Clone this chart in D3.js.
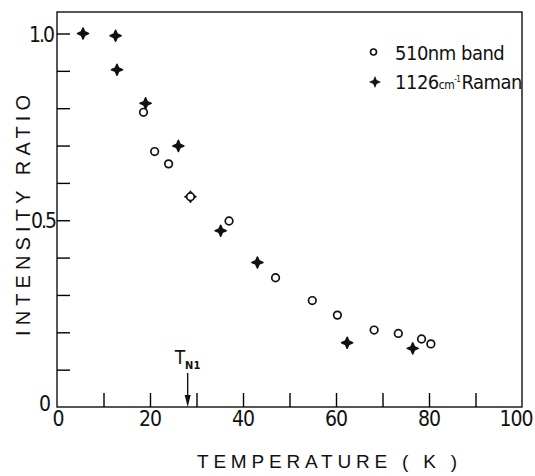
<!DOCTYPE html>
<html>
<head>
<meta charset="utf-8">
<script src="https://cdn.jsdelivr.net/npm/d3@7"></script>
<style>
  body { margin: 0; background: #fff; }
  svg text { font-family: "DejaVu Sans Condensed", "Liberation Sans", sans-serif; fill: #111; }
</style>
</head>
<body>
<div id="chart-area"></div>
<script>
// 510nm band (open circles)
var bandT = [18.6, 21.0, 24.0, 28.7, 37.0, 47.0, 54.9, 60.3, 68.2, 73.4, 78.4, 80.4];
var bandR = [0.789, 0.684, 0.651, 0.563, 0.498, 0.346, 0.285, 0.246, 0.206, 0.197, 0.182, 0.169];

// 1126 cm-1 Raman (filled crosses)
var ramanT = [5.6, 12.6, 12.9, 19.05, 26.1, 28.7, 35.2, 43.1, 62.4, 76.5];
var ramanR = [1.0, 0.994, 0.903, 0.813, 0.699, 0.563, 0.472, 0.387, 0.172, 0.157];

var xTicks = [10, 20, 30, 40, 50, 60, 70, 80, 90];
var xLabels = [0, 20, 40, 60, 80, 100];
var yTicks = [0.1, 0.2, 0.3, 0.4, 0.5, 0.6, 0.7, 0.8, 0.9, 1.0];
var yLabels = [0, 0.5, 1.0];
var TN1 = 28.1;

var margin = { left: 57, right: 13, top: 12, bottom: 69 };
var width = 535 - margin.left - margin.right,
    height = 476 - margin.top - margin.bottom;

var svg = d3.select("#chart-area")
    .append("svg")
        .attr("width", 535)
        .attr("height", 476);
var g = svg.append("g")
    .attr("transform", "translate(" + margin.left + "," + margin.top + ")");

var x = d3.scaleLinear().domain([0, 100]).range([0, width]);
var y = d3.scaleLinear().domain([0, 1]).range([height, 21.5]);

// frame
g.append("rect")
    .attr("width", width).attr("height", height)
    .attr("fill", "none").attr("stroke", "#111").attr("stroke-width", 1.4);

// X axis: inward ticks
g.append("g")
    .attr("transform", "translate(0," + height + ")")
    .call(d3.axisBottom(x).tickValues(xTicks).tickSize(-14).tickFormat(""))
    .call(function(a){ a.select(".domain").remove(); a.selectAll("line").attr("stroke-width", 1.4); });

g.selectAll(".xlab")
    .data(xLabels)
    .enter().append("text")
        .attr("x", function(d){ return x(d) + (d == 0 ? 1 : (d == 100 ? -6 : 0)); })
        .attr("y", height + 19)
        .attr("text-anchor", "middle")
        .attr("font-size", "21px")
        .attr("letter-spacing", "-1px")
        .text(function(d){ return d; });

// Y axis: inward ticks
g.append("g")
    .call(d3.axisLeft(y).tickValues(yTicks).tickSize(-13).tickFormat(""))
    .call(function(a){ a.select(".domain").remove(); a.selectAll("line").attr("stroke-width", 1.4); });

g.selectAll(".ylab")
    .data(yLabels)
    .enter().append("text")
        .attr("x", function(d){ return d == 0 ? -8 : (d == 0.5 ? -2 : -4); })
        .attr("y", function(d){ return y(d) + (d == 0 ? 4 : 8); })
        .attr("text-anchor", "end")
        .attr("font-size", "21px")
        .attr("letter-spacing", "-2px")
        .text(function(d){ return d == 0 ? "0" : d3.format(".1f")(d); });

// axis titles
svg.append("text")
    .attr("x", 197).attr("y", 468)
    .attr("font-size", "19px")
    .attr("textLength", 260).attr("lengthAdjust", "spacing")
    .style("font-family", "'Liberation Sans', sans-serif")
    .text("TEMPERATURE   ( K )");

svg.append("text")
    .attr("transform", "translate(30,336) rotate(-90)")
    .attr("font-size", "20px")
    .attr("textLength", 241).attr("lengthAdjust", "spacing")
    .style("font-family", "'Liberation Sans', sans-serif")
    .text("INTENSITY   RATIO");

// four-point star for the Raman points
function star(s) {
    var a = s, b = s * 0.3;
    return "M0," + (-a) + "L" + b + "," + (-b) + "L" + a + ",0L" + b + "," + b +
           "L0," + a + "L" + (-b) + "," + b + "L" + (-a) + ",0L" + (-b) + "," + (-b) + "Z";
}

var raman = ramanT.map(function(t, i){ return { t: t, r: ramanR[i] }; });
var band = bandT.map(function(t, i){ return { t: t, r: bandR[i] }; });

g.selectAll(".raman")
    .data(raman)
    .enter().append("path")
        .attr("d", star(5.5))
        .attr("transform", function(d){ return "translate(" + x(d.t) + "," + y(d.r) + ")"; })
        .attr("fill", "#111").attr("stroke", "#111").attr("stroke-width", 1.6)
        .attr("stroke-linejoin", "round");

g.selectAll(".band")
    .data(band)
    .enter().append("circle")
        .attr("cx", function(d){ return x(d.t); })
        .attr("cy", function(d){ return y(d.r); })
        .attr("r", 3.8)
        .attr("fill", "#fff").attr("stroke", "#111").attr("stroke-width", 1.7);

// legend
var leg = svg.append("g");
leg.append("circle").attr("cx", 373.5).attr("cy", 52).attr("r", 3)
    .attr("fill", "#fff").attr("stroke", "#111").attr("stroke-width", 1.6);
leg.append("text").attr("x", 395).attr("y", 60).attr("font-size", "20px")
    .attr("letter-spacing", "-0.5px").text("510nm band");
leg.append("path").attr("d", star(4.5))
    .attr("transform", "translate(375,82)")
    .attr("fill", "#111").attr("stroke", "#111").attr("stroke-width", 1.2);
var lt = leg.append("text").attr("x", 395).attr("y", 89).attr("font-size", "20px")
    .attr("letter-spacing", "-0.5px");
lt.append("tspan").text("1126");
lt.append("tspan").attr("font-size", "12px").text("cm");
lt.append("tspan").attr("font-size", "8px").attr("dy", -7).text("-1");
lt.append("tspan").attr("dy", 7).attr("dx", 1).text("Raman");

// T_N1 marker
var tx = x(TN1);
g.append("line")
    .attr("x1", tx).attr("x2", tx)
    .attr("y1", height - 34).attr("y2", height - 8)
    .attr("stroke", "#111").attr("stroke-width", 1.4);
g.append("path")
    .attr("d", "M" + (tx - 3) + "," + (height - 12) + "L" + (tx + 3) + "," + (height - 12) + "L" + tx + "," + height + "Z")
    .attr("fill", "#111");
var tn = g.append("text")
    .attr("x", tx - 13).attr("y", height - 43)
    .attr("font-size", "19px");
tn.append("tspan").text("T");
tn.append("tspan").attr("font-size", "11px").attr("font-weight", "bold").attr("dy", 5).text("N1");
</script>
</body>
</html>
